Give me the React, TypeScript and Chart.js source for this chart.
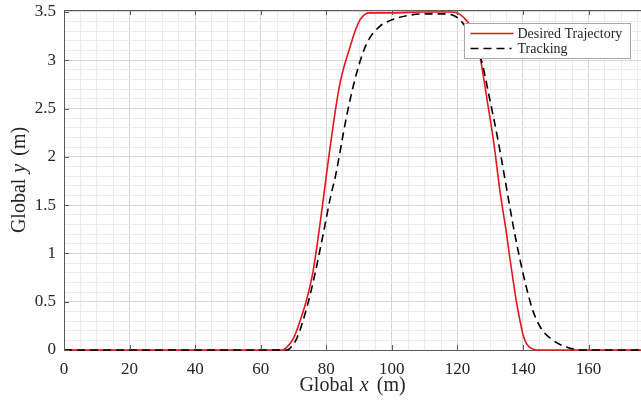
import React, { useEffect, useRef } from "react";
import { Chart, registerables } from "chart.js";

Chart.register(...registerables);

// ---- Data ----
const seriesNames = ["Desired Trajectory", "Tracking"];

const desiredX = [0, 20, 40, 60, 66.5, 68, 70, 72, 74, 76, 78, 80, 81, 82, 83, 84, 85, 86, 87, 88, 89, 90, 91, 92, 93, 100, 110, 118, 120, 122, 124, 125.5, 127, 129, 131, 133, 135, 136, 137, 138, 139, 140, 141, 142, 143, 144.2, 150, 160, 176];
const desiredY = [0, 0, 0, 0, 0, 0.03, 0.12, 0.3, 0.52, 0.82, 1.28, 1.8, 2.06, 2.3, 2.53, 2.73, 2.88, 3.0, 3.11, 3.22, 3.32, 3.4, 3.45, 3.48, 3.49, 3.49, 3.5, 3.5, 3.49, 3.44, 3.35, 3.22, 3.02, 2.6, 2.17, 1.64, 1.2, 0.95, 0.72, 0.5, 0.32, 0.16, 0.07, 0.03, 0.01, 0, 0, 0, 0];

const trackX = [0, 20, 40, 60, 68, 69, 71, 74, 76.5, 79, 81.4, 82.8, 86.2, 89.2, 92.3, 96.3, 99.4, 104.5, 110, 116, 119, 121, 123, 125, 127.3, 129.9, 132.4, 134.5, 137, 139, 141.1, 143.1, 145.6, 149.2, 153.2, 158.3, 165, 176];
const trackY = [0, 0, 0, 0, 0, 0.02, 0.12, 0.43, 0.78, 1.19, 1.6, 1.8, 2.42, 2.86, 3.17, 3.35, 3.41, 3.46, 3.48, 3.48, 3.46, 3.41, 3.32, 3.19, 3.0, 2.59, 2.17, 1.77, 1.29, 0.95, 0.64, 0.4, 0.22, 0.1, 0.03, 0, 0, 0];

const xMajorTicks = [0, 20, 40, 60, 80, 100, 120, 140, 160];
const yMajorTicks = [0, 0.5, 1, 1.5, 2, 2.5, 3, 3.5];
const xMinorStep = 5;
const yMinorStep = 0.1;
const xMin = 0;
const xMax = 176;
const yMin = 0;
const yMax = 3.52;

const FONT = "'Liberation Serif', 'Times New Roman', serif";

function isMajor(v: number, majors: number[]) {
  return majors.some((m) => Math.abs(m - v) < 1e-6);
}

function minorValues(min: number, max: number, step: number) {
  const out: number[] = [];
  const n = Math.floor((max - min) / step + 1e-6);
  for (let i = 0; i <= n; i++) out.push(+(min + i * step).toFixed(6));
  return out;
}

function drawTitle(ctx: CanvasRenderingContext2D, cx: number, cy: number, letter: string) {
  const normal = `20px ${FONT}`;
  const italic = `italic 20px ${FONT}`;
  const parts: [string, string, number][] = [
    ["Global", normal, 0],
    [letter, italic, 6],
    ["(m)", normal, 8],
  ];
  let total = 0;
  const widths = parts.map(([t, f, gap]) => {
    ctx.font = f;
    const w = ctx.measureText(t).width + gap;
    total += w;
    return w;
  });
  let x = cx - total / 2;
  parts.forEach(([t, f, gap], i) => {
    ctx.font = f;
    ctx.fillText(t, x + gap, cy);
    x += widths[i];
  });
}

const decorPlugin = {
  id: "decor",
  afterDatasetsDraw(chart: any) {
    const ctx = chart.ctx as CanvasRenderingContext2D;
    const { left, right, top, bottom } = chart.chartArea;
    const xs = chart.scales.x;
    const ys = chart.scales.y;
    ctx.save();
    // top border
    ctx.strokeStyle = "#5a5a5a";
    ctx.lineWidth = 1;
    ctx.beginPath();
    ctx.moveTo(left, Math.round(top) + 0.5);
    ctx.lineTo(right, Math.round(top) + 0.5);
    ctx.stroke();
    // inward ticks
    ctx.beginPath();
    xMajorTicks.forEach((v) => {
      const px = Math.round(xs.getPixelForValue(v)) + 0.5;
      ctx.moveTo(px, bottom);
      ctx.lineTo(px, bottom - 5);
      ctx.moveTo(px, top);
      ctx.lineTo(px, top + 5);
    });
    yMajorTicks.forEach((v) => {
      const py = Math.round(ys.getPixelForValue(v)) + 0.5;
      ctx.moveTo(left, py);
      ctx.lineTo(left + 5, py);
    });
    ctx.stroke();

    // legend
    const bx = Math.round(right - 177) + 0.5;
    const by = Math.round(top + 13) + 0.5;
    const bw = 166;
    const bh = 35;
    ctx.fillStyle = "#ffffff";
    ctx.fillRect(bx, by, bw, bh);
    ctx.strokeStyle = "#a8a8a8";
    ctx.lineWidth = 1;
    ctx.strokeRect(bx, by, bw, bh);

    const r1 = by + 10;
    const r2 = by + 25;
    ctx.lineWidth = 1.6;
    ctx.strokeStyle = "#e8141c";
    ctx.beginPath();
    ctx.moveTo(bx + 6, r1);
    ctx.lineTo(bx + 49, r1);
    ctx.stroke();
    ctx.strokeStyle = "#000000";
    ctx.setLineDash([8, 5]);
    ctx.beginPath();
    ctx.moveTo(bx + 6, r2);
    ctx.lineTo(bx + 47, r2);
    ctx.stroke();
    ctx.setLineDash([]);

    ctx.fillStyle = "#262626";
    ctx.font = `14px ${FONT}`;
    ctx.textBaseline = "middle";
    ctx.textAlign = "left";
    ctx.fillText(seriesNames[0], bx + 53, r1 + 1);
    ctx.fillText(seriesNames[1], bx + 53, r2 + 1);
    ctx.restore();
  },
  afterDraw(chart: any) {
    const ctx = chart.ctx as CanvasRenderingContext2D;
    const { left, right, top, bottom } = chart.chartArea;
    ctx.save();
    ctx.fillStyle = "#262626";
    ctx.textBaseline = "alphabetic";
    ctx.textAlign = "left";
    drawTitle(ctx, (left + right) / 2, 391, "x");
    ctx.translate(25, (top + bottom) / 2);
    ctx.rotate(-Math.PI / 2);
    drawTitle(ctx, 0, 0, "y");
    ctx.restore();
  },
};

export default function App() {
  const ref = useRef<HTMLCanvasElement | null>(null);
  useEffect(() => {
    if (!ref.current) return;
    const chart = new Chart(ref.current, {
      type: "line",
      data: {
        datasets: [
          {
            label: seriesNames[0],
            data: desiredX.map((x, i) => ({ x, y: desiredY[i] })),
            borderColor: "#e8141c",
            borderWidth: 1.6,
            pointRadius: 0,
            cubicInterpolationMode: "monotone",
            fill: false,
            clip: false,
            order: 2,
          } as any,
          {
            label: seriesNames[1],
            data: trackX.map((x, i) => ({ x, y: trackY[i] })),
            borderColor: "#000000",
            borderWidth: 1.6,
            borderDash: [8, 5],
            pointRadius: 0,
            cubicInterpolationMode: "monotone",
            fill: false,
            clip: false,
            order: 1,
          } as any,
        ],
      },
      options: {
        animation: false,
        responsive: false,
        devicePixelRatio: 1,
        layout: { padding: { top: 10, right: 0, left: 0, bottom: 0 } },
        plugins: {
          legend: { display: false },
          tooltip: { enabled: false },
        },
        scales: {
          x: {
            type: "linear",
            min: xMin,
            max: xMax,
            afterBuildTicks: (scale: any) => {
              scale.ticks = minorValues(xMin, xMax, xMinorStep).map((v) => ({ value: v }));
            },
            afterFit: (scale: any) => {
              scale.height = 51;
              scale.paddingLeft = 0;
              scale.paddingRight = 0;
              scale.paddingTop = 0;
              scale.paddingBottom = 0;
            },
            ticks: {
              autoSkip: false,
              maxRotation: 0,
              padding: 9,
              color: "#262626",
              font: { family: FONT, size: 17 },
              callback: (v: any) => (isMajor(Number(v), xMajorTicks) ? String(v) : ""),
            },
            grid: {
              drawTicks: false,
              color: (c: any) =>
                c.tick && isMajor(c.tick.value, xMajorTicks) ? "#d6d6d6" : "#ebebeb",
              lineWidth: 1,
            },
            border: { display: true, color: "#5a5a5a", width: 1 },
          },
          y: {
            type: "linear",
            min: yMin,
            max: yMax,
            afterBuildTicks: (scale: any) => {
              scale.ticks = minorValues(yMin, 3.5, yMinorStep).map((v) => ({ value: v }));
            },
            afterFit: (scale: any) => {
              scale.width = 64;
              scale.paddingLeft = 0;
              scale.paddingRight = 0;
              scale.paddingTop = 0;
              scale.paddingBottom = 0;
            },
            ticks: {
              autoSkip: false,
              padding: 8,
              color: "#262626",
              font: { family: FONT, size: 17 },
              callback: (v: any) => (isMajor(Number(v), yMajorTicks) ? String(v) : ""),
            },
            grid: {
              drawTicks: false,
              color: (c: any) =>
                c.tick && isMajor(c.tick.value, yMajorTicks) ? "#d6d6d6" : "#ebebeb",
              lineWidth: 1,
            },
            border: { display: true, color: "#5a5a5a", width: 1 },
          },
        },
      },
      plugins: [decorPlugin],
    } as any);
    return () => chart.destroy();
  }, []);
  return (
    <div style={{ position: "absolute", left: 0, top: 0, width: 641, height: 401, background: "#fff" }}>
      <canvas ref={ref} width={641} height={401} style={{ display: "block" }} />
    </div>
  );
}
